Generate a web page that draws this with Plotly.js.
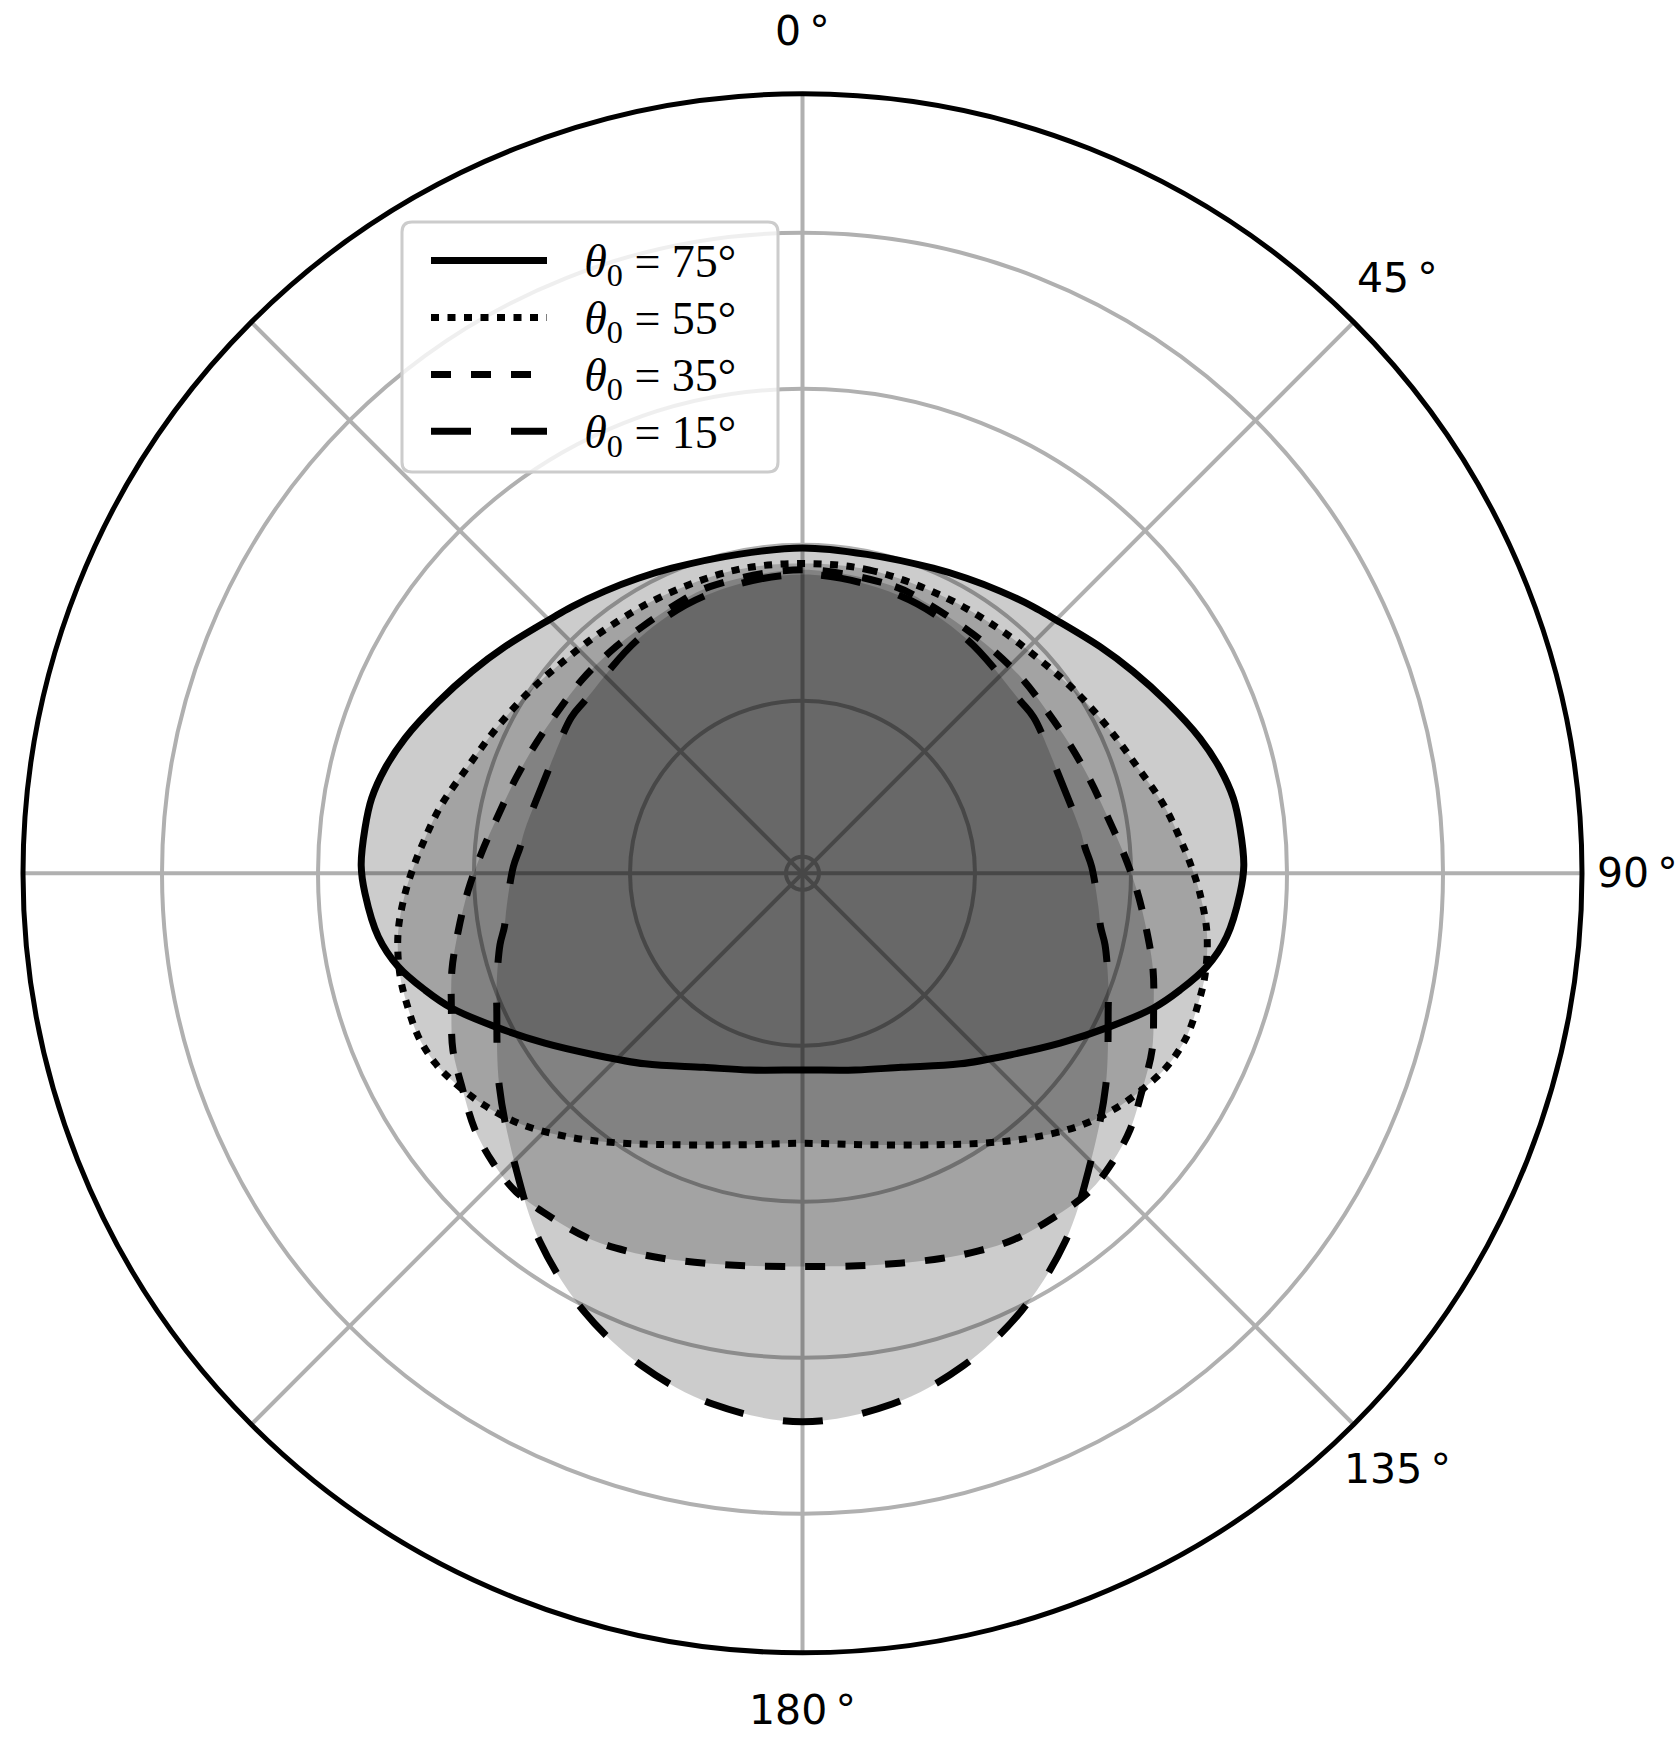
<!DOCTYPE html>
<html>
<head>
<meta charset="utf-8">
<script src="https://cdn.plot.ly/plotly-3.0.1.min.js"></script>
<style>
	body { margin: 0; background: #fff; }
	#chart { width: 1677px; height: 1739px; }
</style>
</head>
<body>
<div id="chart"></div>
<script>
// solar zenith angle of each curve (legend order)
var zenithAngles = ["75", "55", "35", "15"];

// theta0 = 75 deg (solid)
var theta75 = [0, 11.4, 23.2, 29.1, 35, 40.9, 44.5, 52.7, 58.6, 64.8, 71.2, 75.9, 80.1, 84.1, 89, 92.6, 98.5, 103, 107.2, 111, 116.5, 123.4, 131.2, 140.4, 153, 165, 180,
	195, 207, 219.6, 228.8, 236.6, 243.5, 249, 252.8, 257, 261.5, 267.4, 271, 275.9, 279.9, 284.1, 288.8, 295.2, 301.4, 307.3, 315.5, 319.1, 325, 330.9, 336.8, 348.6, 0];
var r75 = [0.396, 0.396, 0.4044, 0.4117, 0.4205, 0.4309, 0.4374, 0.4583, 0.4755, 0.4950, 0.5170, 0.5307, 0.5395, 0.5427, 0.5447, 0.5404, 0.5287, 0.5108, 0.4854, 0.4608, 0.4194, 0.3745, 0.3324, 0.2959, 0.258, 0.240, 0.231,
	0.240, 0.258, 0.2959, 0.3324, 0.3745, 0.4194, 0.4608, 0.4854, 0.5108, 0.5287, 0.5404, 0.5447, 0.5427, 0.5395, 0.5307, 0.5170, 0.4950, 0.4755, 0.4583, 0.4374, 0.4309, 0.4205, 0.4117, 0.4044, 0.396, 0.396];

// theta0 = 55 deg (dotted)
var theta55 = [0, 12.5, 27, 39, 48, 56, 64.6, 72.3, 79.6, 86.5, 88.5, 92.9, 98.4, 104, 108.2, 113, 117.3, 120.5, 126, 132, 139, 146, 154, 167, 180,
	193, 206, 214, 221, 228, 234, 239.5, 242.7, 247, 251.8, 256, 261.6, 267.1, 271.5, 273.5, 280.4, 287.7, 295.4, 304, 312, 321, 333, 347.5, 0];
var r55 = [0.376, 0.377, 0.377, 0.381, 0.388, 0.399, 0.413, 0.429, 0.451, 0.470, 0.476, 0.489, 0.503, 0.511, 0.513, 0.514, 0.509, 0.501, 0.484, 0.461, 0.428, 0.396, 0.366, 0.336, 0.325,
	0.336, 0.366, 0.396, 0.428, 0.461, 0.484, 0.501, 0.509, 0.514, 0.513, 0.511, 0.503, 0.489, 0.476, 0.470, 0.451, 0.429, 0.413, 0.399, 0.388, 0.381, 0.377, 0.377, 0.376];

// theta0 = 35 deg (dashed)
var theta35 = [0, 17.9, 25.1, 32.7, 40.5, 48.6, 56.4, 64, 71.7, 79.2, 86.3, 92.9, 99.4, 105.4, 111.3, 116.8, 122, 128, 133, 138, 144, 150, 155, 160, 166, 172, 180,
	188, 194, 200, 205, 210, 216, 222, 227, 232, 238, 243.2, 248.7, 254.6, 260.6, 267.1, 273.7, 280.8, 288.3, 296, 303.6, 311.4, 319.5, 327.3, 334.9, 342.1, 0];
var r35 = [0.368, 0.365, 0.360, 0.356, 0.355, 0.355, 0.355, 0.359, 0.366, 0.376, 0.391, 0.408, 0.426, 0.445, 0.462, 0.481, 0.494, 0.512, 0.522, 0.528, 0.525, 0.521, 0.513, 0.504, 0.494, 0.487, 0.483,
	0.487, 0.494, 0.504, 0.513, 0.521, 0.525, 0.528, 0.522, 0.512, 0.494, 0.481, 0.462, 0.445, 0.426, 0.408, 0.391, 0.376, 0.366, 0.359, 0.355, 0.355, 0.355, 0.356, 0.360, 0.365, 0.368];

// theta0 = 15 deg (long dashes)
var theta15 = [0, 19.4, 35, 51.6, 56, 64, 68.3, 81, 84.8, 88.7, 96.4, 100.2, 103.3, 110.3, 113.6, 125, 135.7, 144.5, 153.4, 162, 170.4, 180,
	189.6, 198, 206.6, 215.5, 224.3, 235, 246.4, 249.7, 256.7, 259.8, 263.6, 271.3, 275.2, 279, 291.7, 296, 304, 308.4, 325, 340.6, 0];
var r15 = [0.362, 0.356, 0.3456, 0.3349, 0.3364, 0.3315, 0.3305, 0.339, 0.3426, 0.3497, 0.3605, 0.3672, 0.3774, 0.397, 0.4066, 0.4535, 0.5054, 0.5588, 0.606, 0.6433, 0.669, 0.682,
	0.669, 0.6433, 0.606, 0.5588, 0.5054, 0.4535, 0.4066, 0.397, 0.3774, 0.3672, 0.3605, 0.3497, 0.3426, 0.339, 0.3305, 0.3315, 0.3364, 0.3349, 0.3456, 0.356, 0.362];

// radial grid rings and angular tick labels
var radialTicks = [0, 0.2, 0.4, 0.6, 0.8];
var angleTicks = [0, 45, 90, 135, 180];
var angleLabels = ["0\u2009°", "45\u2009°", "90\u2009°", "135\u2009°", "180\u2009°"];

var W = 1677, H = 1739;
var cx = 802.5, cy = 873.3;

var allTheta = [theta75, theta55, theta35, theta15];
var allR = [r75, r55, r35, r15];
var dashes = ["solid", "8px,8.5px", "20px,20px", "40px,40px"];

var data = [];

// shaded areas first
for (var i = 0; i < allR.length; i++) {
	data.push({
		type: "scatterpolar",
		r: allR[i],
		theta: allTheta[i],
		mode: "lines",
		fill: "toself",
		fillcolor: "rgba(0,0,0,0.2)",
		line: {width: 0, shape: "spline", color: "rgba(0,0,0,0)"},
		showlegend: false,
		hoverinfo: "skip"
	});
}

// then the outlines, which also make the legend
// (legend row spacing comes from the legend font, the label itself is drawn a bit larger)
for (var i = 0; i < allR.length; i++) {
	data.push({
		type: "scatterpolar",
		r: allR[i],
		theta: allTheta[i],
		mode: "lines",
		name: "<span style='font-size:46px'>\u2002\u2009<i>θ</i><sub>0</sub>\u2005=\u2005" + zenithAngles[i] + "°</span>",
		line: {width: 7, shape: "spline", color: "#000", dash: dashes[i]}
	});
}

// rounded legend frame, pixel coords turned into paper coords
function px(x) { return x / W; }
function py(y) { return 1 - y / H; }
function roundedBox(x0, y0, x1, y1, rad) {
	var p = "";
	p += "M" + px(x0 + rad) + "," + py(y0);
	p += " L" + px(x1 - rad) + "," + py(y0);
	p += " Q" + px(x1) + "," + py(y0) + " " + px(x1) + "," + py(y0 + rad);
	p += " L" + px(x1) + "," + py(y1 - rad);
	p += " Q" + px(x1) + "," + py(y1) + " " + px(x1 - rad) + "," + py(y1);
	p += " L" + px(x0 + rad) + "," + py(y1);
	p += " Q" + px(x0) + "," + py(y1) + " " + px(x0) + "," + py(y1 - rad);
	p += " L" + px(x0) + "," + py(y0 + rad);
	p += " Q" + px(x0) + "," + py(y0) + " " + px(x0 + rad) + "," + py(y0);
	p += " Z";
	return p;
}

// angular tick labels centred on a ring outside the plot, like matplotlib
var labelRadius = [842, 842, 835, 842, 837];
var annotations = [];
for (var k = 0; k < angleTicks.length; k++) {
	var a = angleTicks[k] * Math.PI / 180;
	annotations.push({
		xref: "paper", yref: "paper",
		x: px(cx + labelRadius[k] * Math.sin(a)),
		y: py(cy - labelRadius[k] * Math.cos(a)),
		xanchor: "center", yanchor: "middle",
		text: angleLabels[k],
		showarrow: false,
		font: {family: "DejaVu Sans", size: 41, color: "#000"}
	});
}

var R = 779.5;
var layout = {
	width: W,
	height: H,
	margin: {l: 0, r: 0, t: 0, b: 0},
	paper_bgcolor: "#fff",
	showlegend: true,
	polar: {
		domain: {x: [px(cx - R), px(cx + R)], y: [py(cy + R), py(cy - R)]},
		bgcolor: "#fff",
		radialaxis: {
			range: [-0.02115, 0.9782],
			tickvals: radialTicks,
			showticklabels: false,
			ticks: "",
			showline: false,
			gridcolor: "#b0b0b0",
			gridwidth: 4,
			layer: "below traces"
		},
		angularaxis: {
			rotation: 90,
			direction: "clockwise",
			tickmode: "array",
			tickvals: [0, 45, 90, 135, 180, 225, 270, 315],
			showticklabels: false,
			ticks: "",
			showline: true,
			linecolor: "#000",
			linewidth: 5,
			gridcolor: "#b0b0b0",
			gridwidth: 4,
			layer: "below traces"
		}
	},
	legend: {
		x: px(426),
		y: py(227),
		xanchor: "left",
		yanchor: "top",
		bgcolor: "rgba(0,0,0,0)",
		borderwidth: 0,
		itemwidth: 116,
		font: {family: "Liberation Serif", size: 41.5, color: "#000"}
	},
	shapes: [{
		type: "path",
		xref: "paper", yref: "paper",
		path: roundedBox(402, 222, 778, 472, 10),
		fillcolor: "rgba(255,255,255,0.8)",
		line: {color: "#cccccc", width: 3},
		layer: "above"
	}],
	annotations: annotations
};

Plotly.newPlot("chart", data, layout, {displayModeBar: false, staticPlot: true});
</script>
</body>
</html>
